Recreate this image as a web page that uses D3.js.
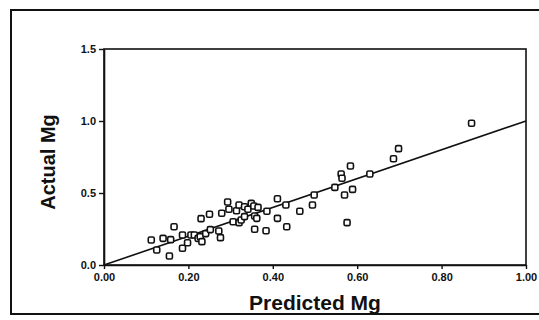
<!DOCTYPE html>
<html>
<head>
<meta charset="utf-8">
<script src="https://cdn.jsdelivr.net/npm/d3@7"></script>
<style>
  html, body { margin: 0; padding: 0; background: #fff; }
  svg { display: block; }
  text { font-family: "Liberation Sans", Arial, sans-serif; fill: #111; }
</style>
</head>
<body>
<svg id="chart" width="539" height="320"></svg>
<script>
// Data
const predictedMg = [0.112,0.125,0.140,0.155,0.158,0.166,0.186,0.186,0.198,0.206,0.214,0.223,0.228,0.230,0.232,0.241,0.250,0.252,0.272,0.276,0.279,0.293,0.296,0.306,0.314,0.320,0.320,0.325,0.333,0.333,0.341,0.349,0.355,0.357,0.362,0.357,0.365,0.386,0.384,0.411,0.411,0.431,0.433,0.464,0.494,0.498,0.547,0.562,0.564,0.570,0.576,0.584,0.589,0.630,0.686,0.698,0.871];
const actualMg    = [0.174,0.104,0.185,0.062,0.176,0.266,0.208,0.116,0.155,0.208,0.208,0.185,0.197,0.322,0.162,0.218,0.352,0.246,0.236,0.190,0.359,0.438,0.387,0.300,0.377,0.417,0.294,0.312,0.405,0.336,0.387,0.428,0.410,0.340,0.324,0.248,0.400,0.373,0.238,0.460,0.324,0.417,0.266,0.373,0.417,0.486,0.539,0.632,0.602,0.486,0.294,0.688,0.525,0.632,0.738,0.808,0.984];
const fitLine = [[0, 0], [1, 1]];
const xTicks = [0, 0.2, 0.4, 0.6, 0.8, 1.0];
const yTicks = [0, 0.5, 1.0, 1.5];
const xTitle = "Predicted Mg";
const yTitle = "Actual Mg";

const svg = d3.select("#chart");
const ink = "#111";

// outer frame
svg.append("rect")
  .attr("x", 11).attr("y", 10).attr("width", 545).attr("height", 304)
  .attr("fill", "none").attr("stroke", ink).attr("stroke-width", 2);

const pLeft = 104, pRight = 526, pTop = 49, pBottom = 265;
const x = d3.scaleLinear().domain([0, 1]).range([pLeft, pRight]);
const y = d3.scaleLinear().domain([0, 1.5]).range([pBottom, pTop]);

// plot box
svg.append("rect")
  .attr("x", pLeft).attr("y", pTop)
  .attr("width", pRight - pLeft).attr("height", pBottom - pTop)
  .attr("fill", "none").attr("stroke", ink).attr("stroke-width", 1.6);

const xAxis = d3.axisBottom(x).tickValues(xTicks).tickFormat(d3.format(".2f"))
  .tickSize(4).tickSizeOuter(0).tickPadding(4);
const gx = svg.append("g").attr("transform", `translate(0,${pBottom})`).call(xAxis);

const yAxis = d3.axisLeft(y).tickValues(yTicks).tickFormat(d3.format(".1f"))
  .tickSize(5).tickSizeOuter(0).tickPadding(3);
const gy = svg.append("g").attr("transform", `translate(${pLeft},0)`).call(yAxis);

[gx, gy].forEach(g => {
  g.select(".domain").attr("stroke", ink).attr("stroke-width", 1.6);
  g.selectAll(".tick line").attr("stroke", ink).attr("stroke-width", 1.4);
  g.selectAll(".tick text")
    .attr("fill", ink)
    .style("font-family", "'Liberation Sans', Arial, sans-serif")
    .style("font-weight", "bold")
    .style("font-size", "11px");
});

// fit line
svg.append("path")
  .datum(fitLine)
  .attr("d", d3.line().x(d => x(d[0])).y(d => y(d[1])))
  .attr("fill", "none").attr("stroke", ink).attr("stroke-width", 1.6);

// points
const pts = predictedMg.map((p, i) => [p, actualMg[i]]);
svg.append("g").selectAll("rect")
  .data(pts).join("rect")
  .attr("x", d => x(d[0]) - 3)
  .attr("y", d => y(d[1]) - 3)
  .attr("width", 6).attr("height", 6)
  .attr("rx", 1.5)
  .attr("fill", "#fff").attr("stroke", ink).attr("stroke-width", 1.6);

// titles
svg.append("text")
  .attr("x", (pLeft + pRight) / 2).attr("y", 310)
  .attr("text-anchor", "middle")
  .style("font-weight", "bold").style("font-size", "21px")
  .text(xTitle);

svg.append("text")
  .attr("transform", `translate(55,162) rotate(-90)`)
  .attr("text-anchor", "middle")
  .style("font-weight", "bold").style("font-size", "20px")
  .text(yTitle);
</script>
</body>
</html>
